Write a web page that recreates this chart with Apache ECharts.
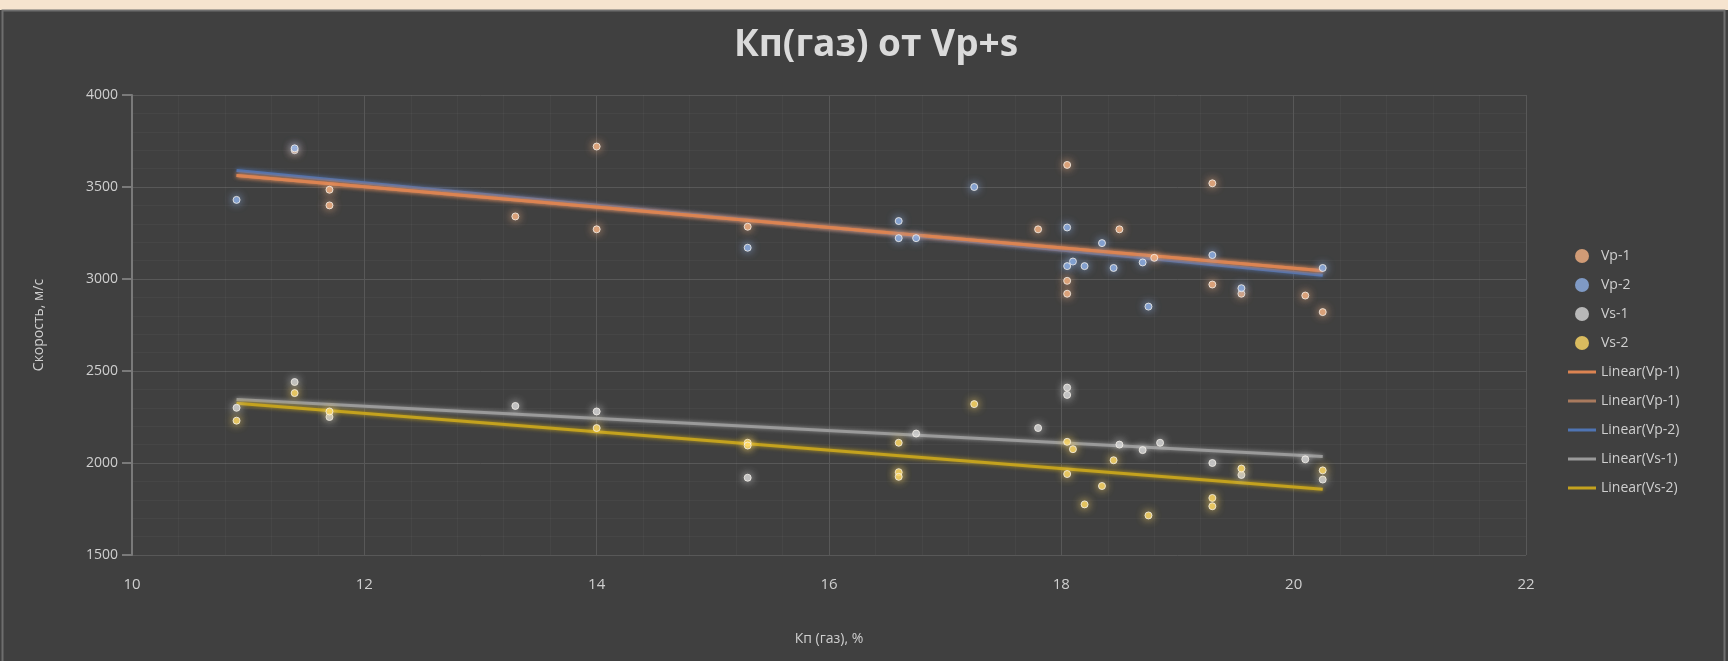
<!DOCTYPE html>
<html>
<head>
<meta charset="utf-8">
<script src="https://cdn.jsdelivr.net/npm/echarts@6/dist/echarts.min.js"></script>
<style>
  html, body { margin: 0; padding: 0; background: #404040; }
  #chart { width: 1728px; height: 661px; }
</style>
</head>
<body>
<div id="chart"></div>
<script>
// Gas porosity (Кп газ, %) against P- and S-wave velocities (м/с)
const vp1X = [11.4, 11.7, 11.7, 13.3, 14.0, 14.0, 15.3, 17.8, 18.05, 18.05, 18.05, 18.5, 18.8, 19.3, 19.3, 19.55, 20.1, 20.25];
const vp1Y = [3700, 3485, 3400, 3340, 3720, 3270, 3284, 3270, 3620, 2990, 2920, 3270, 3115, 3520, 2970, 2920, 2910, 2820];

const vp2X = [10.9, 11.4, 15.3, 16.6, 16.6, 16.75, 17.25, 18.05, 18.1, 18.05, 18.2, 18.35, 18.45, 18.7, 18.75, 19.3, 19.55, 20.25];
const vp2Y = [3430, 3710, 3170, 3315, 3222, 3222, 3500, 3280, 3095, 3070, 3070, 3195, 3060, 3090, 2850, 3130, 2950, 3060];

const vs1X = [10.9, 11.4, 11.7, 13.3, 14.0, 15.3, 16.75, 17.8, 18.05, 18.05, 18.5, 18.7, 18.85, 19.3, 19.55, 20.1, 20.25];
const vs1Y = [2300, 2440, 2250, 2310, 2280, 1920, 2160, 2190, 2410, 2370, 2100, 2070, 2110, 2000, 1935, 2020, 1910];

const vs2X = [10.9, 11.4, 11.7, 14.0, 15.3, 15.3, 16.6, 16.6, 16.6, 17.25, 18.05, 18.1, 18.05, 18.2, 18.35, 18.45, 18.75, 19.3, 19.3, 19.55, 20.25];
const vs2Y = [2230, 2380, 2280, 2190, 2110, 2095, 2110, 1950, 1925, 2320, 2115, 2075, 1940, 1775, 1875, 2015, 1715, 1810, 1765, 1970, 1960];

// Linear trend lines: [xStart, yStart, xEnd, yEnd]
const trendVp1 = [10.9, 3562, 20.25, 3045];
const trendVp2 = [10.9, 3590, 20.25, 3020];
const trendVs1 = [10.9, 2345, 20.25, 2035];
const trendVs2 = [10.9, 2325, 20.25, 1857];

const xTicks = [10, 12, 14, 16, 18, 20, 22];
const yTicks = [1500, 2000, 2500, 3000, 3500, 4000];

const pairs = (xs, ys) => xs.map((x, i) => [x, ys[i]]);
const seg = t => [[t[0], t[1]], [t[2], t[3]]];

const FONT = '"Open Sans", "Noto Sans", sans-serif';
const textCol = '#cfcfcf';

function scatter(name, xs, ys, color) {
  return {
    name, type: 'scatter', z: 5,
    data: pairs(xs, ys),
    symbol: 'circle', symbolSize: 7,
    itemStyle: { color: color, borderColor: '#f6f2ec', borderWidth: 1, shadowBlur: 8, shadowColor: color },
    emphasis: { disabled: true }
  };
}
function trend(name, t, color, z) {
  return {
    name, type: 'line', z: z,
    data: seg(t), showSymbol: false, symbol: 'none',
    lineStyle: { color: color, width: 3, shadowBlur: 4, shadowColor: color },
    itemStyle: { color: color },
    emphasis: { disabled: true }
  };
}

const lineIcon = 'path://M0,0 L28,0 L28,3 L0,3 Z';

const chart = echarts.init(document.getElementById('chart'), null, { renderer: 'canvas' });
chart.setOption({
  backgroundColor: '#404040',
  animation: false,
  textStyle: { fontFamily: FONT },
  graphic: [
    { type: 'rect', shape: { x: 0, y: 0, width: 1728, height: 10 }, style: { fill: '#f6e4cf' }, silent: true },
    { type: 'rect', shape: { x: 2.5, y: 10.5, width: 1722, height: 652 }, style: { fill: 'none', stroke: '#6e6e6e', lineWidth: 2 }, silent: true }
  ],
  title: {
    text: 'Кп(газ) от Vp+s',
    left: 871, top: 22, textAlign: 'center',
    textStyle: { color: '#dadada', fontSize: 37, fontWeight: 'bold', fontFamily: FONT }
  },
  legend: {
    orient: 'vertical', left: 1563, top: 244,
    itemWidth: 28, itemHeight: 14, itemGap: 15,
    itemStyle: { borderWidth: 0, shadowBlur: 0 },
    lineStyle: { shadowBlur: 0 },
    textStyle: { color: textCol, fontSize: 14, fontFamily: FONT },
    data: [
      { name: 'Vp-1', icon: 'circle' },
      { name: 'Vp-2', icon: 'circle' },
      { name: 'Vs-1', icon: 'circle' },
      { name: 'Vs-2', icon: 'circle' },
      { name: 'Linear(Vp-1)', icon: lineIcon },
      { name: 'Linear(Vp-1) ', icon: lineIcon },
      { name: 'Linear(Vp-2)', icon: lineIcon },
      { name: 'Linear(Vs-1)', icon: lineIcon },
      { name: 'Linear(Vs-2)', icon: lineIcon }
    ],
    formatter: n => n.trim()
  },
  grid: { left: 132, right: 202, top: 95, bottom: 106, containLabel: false },
  xAxis: {
    type: 'value',
    min: xTicks[0], max: xTicks[xTicks.length - 1], interval: 2,
    name: 'Кп (газ), %', nameLocation: 'middle', nameGap: 77,
    nameTextStyle: { color: textCol, fontSize: 14, fontFamily: FONT },
    axisLine: { show: false }, axisTick: { show: false },
    axisLabel: { color: textCol, fontSize: 15, margin: 22, fontFamily: FONT },
    splitLine: { show: true, lineStyle: { color: '#585858', width: 1 } },
    minorTick: { show: false, splitNumber: 5 },
    minorSplitLine: { show: true, lineStyle: { color: 'rgba(255,255,255,0.035)', width: 1 } }
  },
  yAxis: {
    type: 'value',
    min: yTicks[0], max: yTicks[yTicks.length - 1], interval: 500,
    name: 'Скорость, м/с', nameLocation: 'middle', nameGap: 86, nameRotate: 90,
    nameTextStyle: { color: textCol, fontSize: 14, fontFamily: FONT },
    axisLine: { show: true, lineStyle: { color: '#7a7a7a', width: 2 } },
    axisTick: { show: true, inside: false, length: 10, lineStyle: { color: '#7a7a7a', width: 2 } },
    axisLabel: { color: textCol, fontSize: 14, margin: 14, fontFamily: FONT, formatter: v => String(v) },
    splitLine: { show: true, lineStyle: { color: '#585858', width: 1 } },
    minorTick: { show: false, splitNumber: 5 },
    minorSplitLine: { show: true, lineStyle: { color: 'rgba(255,255,255,0.035)', width: 1 } }
  },
  series: [
    trend('Linear(Vp-2)', trendVp2, '#4f74b3', 2),
    trend('Linear(Vp-1) ', trendVp1, '#a97a5e', 3),
    trend('Linear(Vp-1)', trendVp1, '#dc8452', 4),
    trend('Linear(Vs-1)', trendVs1, '#9a9a9a', 3),
    trend('Linear(Vs-2)', trendVs2, '#c4a21e', 3),
    scatter('Vp-1', vp1X, vp1Y, '#f4b183'),
    scatter('Vp-2', vp2X, vp2Y, '#8fb0e6'),
    scatter('Vs-1', vs1X, vs1Y, '#d6d6d6'),
    scatter('Vs-2', vs2X, vs2Y, '#ffd966')
  ]
});
</script>
</body>
</html>
